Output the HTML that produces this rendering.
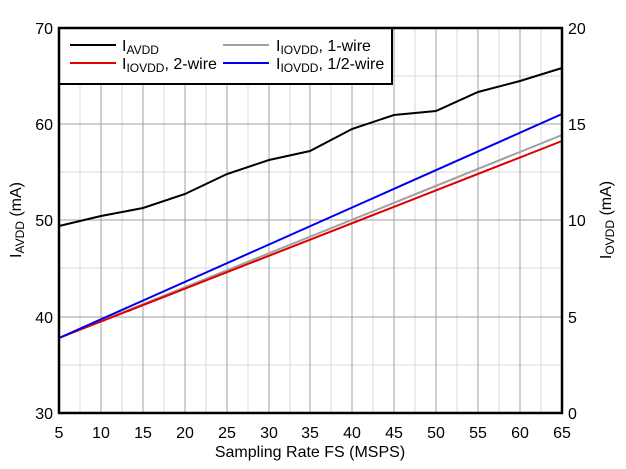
<!DOCTYPE html><html><head><style>body{margin:0;background:#fff}svg{display:block;font-family:"Liberation Sans",sans-serif}</style></head><body>
<svg width="626" height="469" viewBox="0 0 626 469" xmlns="http://www.w3.org/2000/svg">
<g stroke="#d9d9d9" stroke-width="1">
<line x1="80" y1="28" x2="80" y2="413"/><line x1="122" y1="28" x2="122" y2="413"/><line x1="164" y1="28" x2="164" y2="413"/><line x1="206" y1="28" x2="206" y2="413"/><line x1="248" y1="28" x2="248" y2="413"/><line x1="290" y1="28" x2="290" y2="413"/><line x1="331" y1="28" x2="331" y2="413"/><line x1="373" y1="28" x2="373" y2="413"/><line x1="415" y1="28" x2="415" y2="413"/><line x1="457" y1="28" x2="457" y2="413"/><line x1="499" y1="28" x2="499" y2="413"/><line x1="541" y1="28" x2="541" y2="413"/>
<line x1="59" y1="76" x2="562" y2="76"/><line x1="59" y1="172" x2="562" y2="172"/><line x1="59" y1="268" x2="562" y2="268"/><line x1="59" y1="365" x2="562" y2="365"/>
</g>
<g stroke="#a0a0a0" stroke-width="1">
<line x1="101" y1="28" x2="101" y2="413"/><line x1="143" y1="28" x2="143" y2="413"/><line x1="185" y1="28" x2="185" y2="413"/><line x1="227" y1="28" x2="227" y2="413"/><line x1="269" y1="28" x2="269" y2="413"/><line x1="310" y1="28" x2="310" y2="413"/><line x1="352" y1="28" x2="352" y2="413"/><line x1="394" y1="28" x2="394" y2="413"/><line x1="436" y1="28" x2="436" y2="413"/><line x1="478" y1="28" x2="478" y2="413"/><line x1="520" y1="28" x2="520" y2="413"/>
<line x1="59" y1="124" x2="562" y2="124"/><line x1="59" y1="220" x2="562" y2="220"/><line x1="59" y1="317" x2="562" y2="317"/>
</g>
<g fill="none" stroke-width="2">
<polyline stroke="#000" points="59,226 101,216 143,208 185,194 227,174 269,160 310,151 352,129 394,115 436,111 478,92 520,81 562,68"/>
<line stroke="#a0a0a0" x1="59" y1="338" x2="562" y2="135"/>
<line stroke="#e00000" x1="59" y1="338" x2="562" y2="141"/>
<line stroke="#0000ee" x1="59" y1="338" x2="562" y2="114"/>
</g>
<rect x="59" y="28" width="333" height="56" fill="#fff" stroke="#000" stroke-width="2"/>
<rect x="59" y="28" width="503" height="385" fill="none" stroke="#000" stroke-width="2.5"/>
<g stroke-width="2"><line x1="70" y1="45" x2="116" y2="45" stroke="#000"/><line x1="70" y1="63" x2="116" y2="63" stroke="#e00000"/><line x1="223" y1="45" x2="269" y2="45" stroke="#a0a0a0"/><line x1="223" y1="63" x2="269" y2="63" stroke="#0000ee"/></g>
<g font-size="16" fill="#000">
<text x="122" y="51">I<tspan font-size="12" dy="3">AVDD</tspan></text>
<text x="122" y="69">I<tspan font-size="12" dy="3">IOVDD</tspan><tspan dy="-3">, 2-wire</tspan></text>
<text x="276" y="51">I<tspan font-size="12" dy="3">IOVDD</tspan><tspan dy="-3">, 1-wire</tspan></text>
<text x="276" y="69">I<tspan font-size="12" dy="3">IOVDD</tspan><tspan dy="-3">, 1/2-wire</tspan></text>
</g>
<g font-size="16" text-anchor="end"><text x="53" y="34">70</text><text x="53" y="130">60</text><text x="53" y="226">50</text><text x="53" y="323">40</text><text x="53" y="419">30</text></g>
<g font-size="16"><text x="568" y="34">20</text><text x="568" y="130">15</text><text x="568" y="226">10</text><text x="568" y="323">5</text><text x="568" y="419">0</text></g>
<g font-size="16" text-anchor="middle"><text x="59" y="438">5</text><text x="101" y="438">10</text><text x="143" y="438">15</text><text x="185" y="438">20</text><text x="227" y="438">25</text><text x="269" y="438">30</text><text x="310" y="438">35</text><text x="352" y="438">40</text><text x="394" y="438">45</text><text x="436" y="438">50</text><text x="478" y="438">55</text><text x="520" y="438">60</text><text x="562" y="438">65</text>
<text x="310" y="457">Sampling Rate FS (MSPS)</text>
<text transform="translate(21,220) rotate(-90)">I<tspan font-size="12" dy="3">AVDD</tspan><tspan dy="-3"> (mA)</tspan></text>
<text transform="translate(611,220) rotate(-90)">I<tspan font-size="12" dy="3">OVDD</tspan><tspan dy="-3"> (mA)</tspan></text>
</g>
</svg></body></html>
